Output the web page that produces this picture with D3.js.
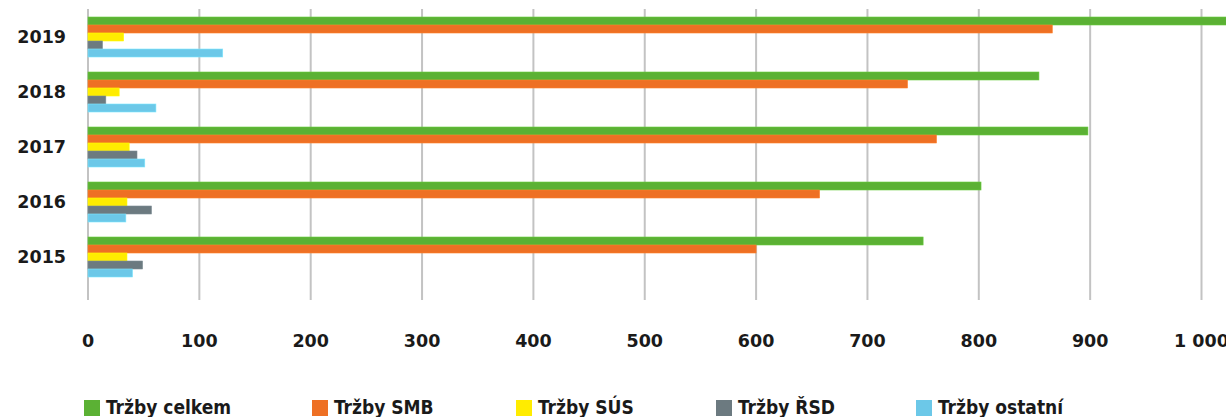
<!DOCTYPE html>
<html>
<head>
<meta charset="utf-8">
<script src="https://cdn.jsdelivr.net/npm/d3@7"></script>
<style>
  body { margin: 0; background: #fff; }
  svg { display: block; }
  text { font-family: "DejaVu Sans", sans-serif; font-weight: bold; fill: #1a1a1a; }
</style>
</head>
<body>
<div id="container"></div>
<script>
// data
var years = ["2019", "2018", "2017", "2016", "2015"];
var series = ["Tržby celkem", "Tržby SMB", "Tržby SÚS", "Tržby ŘSD", "Tržby ostatní"];
var colors = ["#5bb134", "#ee7024", "#ffec00", "#6c7a80", "#6cc8e8"];
var celkem  = [1045, 854, 898, 802, 750];
var smb     = [866, 736, 762, 657, 600];
var sus     = [32, 28, 37, 35, 35];
var rsd     = [13, 16, 44, 57, 49];
var ostatni = [121, 61, 51, 34, 40];
var ticks = [0, 100, 200, 300, 400, 500, 600, 700, 800, 900, 1000];

var legend_x = [84, 312, 516, 716, 916]; // legend layout

var svg_width = 1226,
    svg_height = 417;

var values = [celkem, smb, sus, rsd, ostatni];
var data = years.map(function(y, i) {
  return { year: y, vals: values.map(function(s) { return s[i]; }) };
});

var x = d3.scaleLinear()
  .domain([0, 1000])
  .range([88, 1201.5]);

var y0 = d3.scaleBand()
  .domain(years)
  .range([9.5, 284.5])
  .paddingInner(15 / 55)
  .paddingOuter(7.5 / 55);

var y1 = d3.scaleBand()
  .domain(d3.range(series.length))
  .range([0, y0.bandwidth()]);

var cz = d3.formatLocale({ decimal: ",", thousands: "\u00a0", grouping: [3], currency: ["", " Kč"] });
var fmt = cz.format(",d");

var svg = d3.select("#container")
  .append("svg")
  .attr("width", svg_width)
  .attr("height", svg_height);

// vertical grid
svg.append("g")
  .selectAll("line")
  .data(ticks)
  .enter()
  .append("line")
  .attr("x1", function(d) { return x(d); })
  .attr("x2", function(d) { return x(d); })
  .attr("y1", 9)
  .attr("y2", 300)
  .style("stroke", "#c3c3c3")
  .style("stroke-width", 2);

// bars
var group = svg.selectAll("g.year")
  .data(data)
  .enter()
  .append("g")
  .attr("class", "year")
  .attr("transform", function(d) { return "translate(0," + y0(d.year) + ")"; });

group.selectAll("rect")
  .data(function(d) { return d.vals; })
  .enter()
  .append("rect")
  .attr("x", x(0))
  .attr("y", function(d, i) { return y1(i); })
  .attr("width", function(d) { return x(d) - x(0); })
  .attr("height", y1.bandwidth())
  .style("fill", function(d, i) { return colors[i]; })
  .style("stroke", function(d, i) { return d3.color(colors[i]).brighter(0.4); })
  .style("stroke-width", 0.6);

// year labels
svg.append("g")
  .selectAll("text")
  .data(years)
  .enter()
  .append("text")
  .text(function(d) { return d; })
  .attr("x", 66)
  .attr("y", function(d) { return y0(d) + y0.bandwidth() / 2; })
  .attr("dy", "0.36em")
  .attr("text-anchor", "end")
  .style("font-size", "17.5px");

// x tick labels
svg.append("g")
  .selectAll("text")
  .data(ticks)
  .enter()
  .append("text")
  .text(function(d) { return fmt(d); })
  .attr("x", function(d) { return x(d); })
  .attr("y", 346.5)
  .attr("text-anchor", "middle")
  .style("font-size", "17.5px");

// legend
var leg = svg.append("g")
  .selectAll("g")
  .data(series)
  .enter()
  .append("g")
  .attr("transform", function(d, i) { return "translate(" + legend_x[i] + ",400)"; });

leg.append("rect")
  .attr("width", 16)
  .attr("height", 16)
  .style("fill", function(d, i) { return colors[i]; });

leg.append("text")
  .text(function(d) { return d; })
  .attr("x", 22)
  .attr("y", 14)
  .style("font-family", "'DejaVu Sans Condensed', 'DejaVu Sans', sans-serif")
  .style("font-size", "19px");
</script>
</body>
</html>
